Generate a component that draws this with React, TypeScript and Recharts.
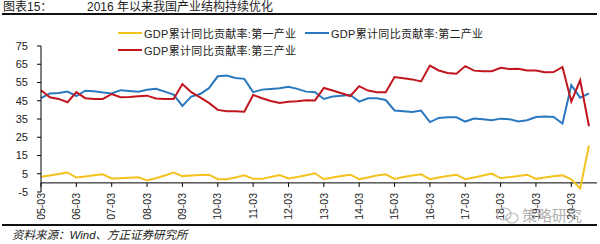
import React from 'react';
import { LineChart, Line, XAxis, YAxis, ReferenceLine, Legend } from 'recharts';

const quarters: string[] = [
  '05-03', '05-06', '05-09', '05-12', '06-03', '06-06', '06-09', '06-12',
  '07-03', '07-06', '07-09', '07-12', '08-03', '08-06', '08-09', '08-12',
  '09-03', '09-06', '09-09', '09-12', '10-03', '10-06', '10-09', '10-12',
  '11-03', '11-06', '11-09', '11-12', '12-03', '12-06', '12-09', '12-12',
  '13-03', '13-06', '13-09', '13-12', '14-03', '14-06', '14-09', '14-12',
  '15-03', '15-06', '15-09', '15-12', '16-03', '16-06', '16-09', '16-12',
  '17-03', '17-06', '17-09', '17-12', '18-03', '18-06', '18-09', '18-12',
  '19-03', '19-06', '19-09', '19-12', '20-03', '20-06', '20-09',
];

const primary: number[] = [
  3.3, 4.1, 4.9, 5.7, 2.9, 3.5, 4.2, 4.7,
  2.4, 2.6, 2.8, 3.1, 1.4, 2.5, 4.0, 5.7,
  3.7, 4.0, 4.3, 4.5, 2.0, 2.0, 3.0, 4.1,
  2.2, 2.2, 3.2, 4.3, 2.4, 3.2, 4.2, 5.3,
  2.0, 3.0, 3.8, 4.5, 2.0, 3.0, 4.0, 4.7,
  2.2, 3.2, 4.0, 4.7, 2.0, 3.0, 3.8, 4.5,
  2.0, 3.0, 4.0, 5.1, 2.5, 3.2, 3.8, 4.5,
  2.2, 3.0, 3.6, 4.1, 1.9, -3.0, 20.5,
];

const secondary: number[] = [
  46.4, 49.0, 49.2, 50.0, 47.6, 50.5, 50.2, 49.5,
  49.0, 50.8, 50.4, 50.0, 51.0, 51.6, 50.0, 48.4,
  42.2, 47.3, 48.7, 51.9, 58.4, 58.8, 57.5, 57.0,
  49.7, 51.1, 51.5, 51.9, 52.7, 51.5, 50.0, 49.7,
  46.0, 47.3, 47.8, 48.2, 44.5, 46.4, 46.4, 45.4,
  39.7, 39.2, 38.8, 39.6, 33.3, 35.6, 35.9, 35.9,
  33.6, 35.3, 34.8, 34.3, 35.2, 34.9, 33.7, 34.3,
  36.1, 36.4, 36.1, 32.5, 53.6, 46.7, 49.0,
];

const tertiary: number[] = [
  50.8, 46.9, 46.0, 44.2, 49.7, 46.4, 46.0, 46.0,
  48.7, 46.9, 47.0, 47.5, 47.8, 46.2, 46.0, 46.0,
  54.2, 49.7, 46.9, 43.8, 40.0, 39.2, 39.2, 39.0,
  48.2, 46.4, 44.9, 43.8, 44.5, 44.7, 45.3, 45.2,
  52.0, 50.6, 49.1, 47.6, 53.0, 50.6, 49.7, 49.7,
  58.0, 57.3, 56.7, 55.6, 64.3, 61.6, 60.2, 59.8,
  64.0, 61.5, 61.2, 61.2, 63.1, 62.4, 62.5, 61.6,
  61.6, 60.6, 60.7, 63.5, 44.5, 56.2, 31.0,
];

const yearTicks: string[] = [
  '05-03', '06-03', '07-03', '08-03', '09-03', '10-03', '11-03', '12-03',
  '13-03', '14-03', '15-03', '16-03', '17-03', '18-03', '19-03', '20-03',
];

const yTicks: number[] = [-5, 5, 15, 25, 35, 45, 55, 65, 75];

const seriesNames = {
  primary: 'GDP累计同比贡献率:第一产业',
  secondary: 'GDP累计同比贡献率:第二产业',
  tertiary: 'GDP累计同比贡献率:第三产业',
};

const titleLabel = '图表15：';
const titleText = '2016 年以来我国产业结构持续优化';
const sourceText = '资料来源：Wind、方正证券研究所';
const watermark = '策略研究';

const data = quarters.map((q, i) => ({
  q,
  primary: primary[i],
  secondary: secondary[i],
  tertiary: tertiary[i],
}));

const COLORS = { primary: '#F4C21F', secondary: '#2A79BF', tertiary: '#C2161F' };
const SANS = '"Liberation Sans", Arial, "Noto Sans CJK SC", sans-serif';
const CJK = '"Liberation Sans", "Noto Sans CJK SC", sans-serif';

const XTick = (props: any) => {
  const { x, y, payload } = props;
  return (
    <text
      x={x}
      y={y}
      transform={`rotate(-90, ${x}, ${y})`}
      textAnchor="end"
      dy="0.35em"
      fontSize={10.5}
      fill="#222"
      fontFamily={SANS}
    >
      {payload.value}
    </text>
  );
};

const legendPos: Record<string, { left: number; top: number }> = {
  primary: { left: 118, top: 26 },
  secondary: { left: 305, top: 26 },
  tertiary: { left: 118, top: 43 },
};

const LegendContent = (props: any) => {
  const { payload } = props;
  return (
    <div style={{ position: 'relative', width: 600, height: 60 }}>
      {(payload || []).map((p: any) => {
        const pos = legendPos[p.dataKey] || { left: 0, top: 0 };
        return (
          <div
            key={p.dataKey}
            style={{
              position: 'absolute',
              left: pos.left,
              top: pos.top,
              display: 'flex',
              alignItems: 'center',
              height: 14,
              whiteSpace: 'nowrap',
            }}
          >
            <div style={{ width: 24, height: 2, background: p.color, marginRight: 2 }} />
            <span style={{ fontSize: 11, fontFamily: CJK, color: '#222', letterSpacing: 0.3 }}>
              {p.value}
            </span>
          </div>
        );
      })}
    </div>
  );
};

export default function App() {
  return (
    <div
      style={{
        position: 'absolute',
        left: 0,
        top: 0,
        width: 600,
        height: 244,
        background: '#fff',
        overflow: 'hidden',
        fontFamily: CJK,
      }}
    >
      <div style={{ position: 'absolute', left: 3, top: 0, fontSize: 12, lineHeight: '14px', color: '#222', whiteSpace: 'nowrap' }}>
        {titleLabel}
      </div>
      <div style={{ position: 'absolute', left: 87, top: 0, fontSize: 12, lineHeight: '14px', color: '#222', whiteSpace: 'nowrap' }}>
        {titleText}
      </div>
      <div style={{ position: 'absolute', left: 2, top: 13, width: 595, height: 2, background: '#111' }} />

      <LineChart
        width={600}
        height={244}
        data={data}
        margin={{ top: 46, right: 3, bottom: 0, left: 0 }}
        style={{ position: 'absolute', left: 0, top: 0 }}
      >
        <XAxis
          dataKey="q"
          interval={3}
          axisLine={false}
          tickLine={false}
          tickSize={0}
          tickMargin={1}
          height={52}
          tick={<XTick />}
          padding={{ left: 0, right: 8 }}
        />
        <YAxis
          domain={[-5, 75]}
          ticks={yTicks}
          interval={0}
          width={41}
          tickSize={4}
          tickMargin={9}
          axisLine={{ stroke: '#000', strokeWidth: 1 }}
          tickLine={{ stroke: '#000', strokeWidth: 1 }}
          tick={{ fontSize: 11, fill: '#222', fontFamily: SANS }}
        />
        <ReferenceLine y={0} stroke="#000" strokeWidth={1} />
        {yearTicks.map((t) => (
          <ReferenceLine
            key={t}
            segment={[{ x: t, y: 0 }, { x: t, y: -2.2 }]}
            stroke="#000"
            strokeWidth={1}
          />
        ))}
        <Legend
          layout="horizontal"
          verticalAlign="middle"
          align="center"
          content={<LegendContent />}
          wrapperStyle={{ position: 'absolute', left: 0, top: 0, width: 600, height: 60 }}
        />
        <Line
          type="linear"
          dataKey="primary"
          name={seriesNames.primary}
          stroke={COLORS.primary}
          strokeWidth={2}
          dot={false}
          isAnimationActive={false}
        />
        <Line
          type="linear"
          dataKey="secondary"
          name={seriesNames.secondary}
          stroke={COLORS.secondary}
          strokeWidth={2}
          dot={false}
          isAnimationActive={false}
        />
        <Line
          type="linear"
          dataKey="tertiary"
          name={seriesNames.tertiary}
          stroke={COLORS.tertiary}
          strokeWidth={2}
          dot={false}
          isAnimationActive={false}
        />
      </LineChart>

      <div style={{ position: 'absolute', left: 2, top: 224, width: 595, height: 2, background: '#111' }} />
      <div
        style={{
          position: 'absolute',
          left: 12,
          top: 228,
          fontSize: 11.5,
          lineHeight: '14px',
          fontStyle: 'italic',
          color: '#222',
          whiteSpace: 'nowrap',
        }}
      >
        {sourceText}
      </div>
      <svg style={{ position: 'absolute', left: 495, top: 205 }} width={100} height={22}>
        <ellipse cx={9} cy={9} rx={7} ry={6} fill="none" stroke="#bbb" strokeWidth={1.2} />
        <ellipse cx={17} cy={13} rx={6} ry={5} fill="none" stroke="#bbb" strokeWidth={1.2} />
        <text x={27} y={16} fontSize={15} fill="#b0b0b0" fontFamily={CJK}>
          {watermark}
        </text>
      </svg>
    </div>
  );
}
